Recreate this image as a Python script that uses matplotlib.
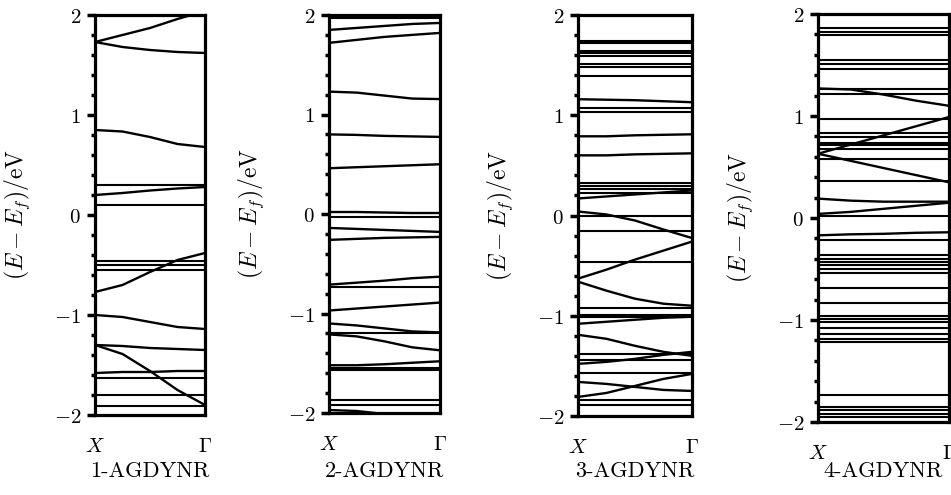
import matplotlib
matplotlib.use("Agg")
import matplotlib.pyplot as plt
from matplotlib.ticker import MultipleLocator

plt.rcParams['mathtext.fontset'] = 'cm'

# ---------------- data ----------------
k_points = [0.0, 0.25, 0.5, 0.75, 1.0]
k_labels = [r'$X$', r'$\Gamma$']
yticks = [-2, -1, 0, 1, 2]
panel_names = ['1-AGDYNR', '2-AGDYNR', '3-AGDYNR', '4-AGDYNR']

# dispersive bands: energies (eV) at k_points
disp_1 = [
    [1.73, 1.80, 1.87, 1.96, 2.04],
    [1.73, 1.68, 1.65, 1.63, 1.62],
    [0.85, 0.835, 0.78, 0.71, 0.68],
    [0.20, 0.22, 0.245, 0.265, 0.28],
    [-0.77, -0.70, -0.57, -0.45, -0.38],
    [-1.00, -1.02, -1.07, -1.12, -1.14],
    [-1.30, -1.31, -1.33, -1.34, -1.35],
    [-1.30, -1.39, -1.56, -1.75, -1.90],
    [-1.58, -1.57, -1.57, -1.56, -1.56],
]
flat_1 = [0.30, 0.10, -0.46, -0.50, -0.55, -1.63, -1.80, -1.91]

disp_2 = [
    [1.85, 1.87, 1.89, 1.91, 1.92],
    [1.72, 1.75, 1.78, 1.80, 1.82],
    [1.23, 1.22, 1.19, 1.16, 1.155],
    [0.80, 0.795, 0.785, 0.78, 0.775],
    [0.46, 0.47, 0.48, 0.49, 0.50],
    [0.02, 0.02, 0.015, 0.01, 0.01],
    [-0.14, -0.15, -0.16, -0.17, -0.18],
    [-0.26, -0.25, -0.24, -0.235, -0.23],
    [-0.71, -0.69, -0.67, -0.645, -0.63],
    [-0.97, -0.95, -0.93, -0.91, -0.89],
    [-1.10, -1.12, -1.15, -1.18, -1.19],
    [-1.21, -1.23, -1.28, -1.34, -1.37],
    [-1.52, -1.52, -1.51, -1.495, -1.48],
    [-1.97, -1.98, -2.01, -2.05, -2.08],
]
flat_2 = [1.99, 1.97, -0.03, -0.73, -1.20, -1.55, -1.57, -1.87, -1.92]

disp_3 = [
    [1.16, 1.155, 1.15, 1.14, 1.13],
    [0.79, 0.79, 0.80, 0.805, 0.81],
    [0.60, 0.60, 0.61, 0.615, 0.62],
    [0.17, 0.19, 0.21, 0.23, 0.25],
    [0.04, 0.01, -0.05, -0.14, -0.225],
    [-0.63, -0.54, -0.44, -0.35, -0.26],
    [-0.66, -0.75, -0.83, -0.88, -0.90],
    [-1.08, -1.06, -1.04, -1.02, -1.01],
    [-1.19, -1.23, -1.30, -1.36, -1.40],
    [-1.48, -1.46, -1.43, -1.39, -1.36],
    [-1.66, -1.68, -1.71, -1.74, -1.75],
    [-1.81, -1.77, -1.70, -1.63, -1.58],
]
flat_3 = [1.745, 1.72, 1.64, 1.62, 1.59, 1.51, 1.48, 1.39, 1.07, 1.03,
          0.32, 0.29, 0.26, 0.22, 0.0, -0.15, -0.46, -0.92, -0.99, -1.01,
          -1.38, -1.44, -1.57, -1.84, -1.89]

disp_4 = [
    [1.27, 1.26, 1.21, 1.15, 1.10],
    [0.63, 0.72, 0.81, 0.90, 0.99],
    [0.63, 0.56, 0.49, 0.42, 0.35],
    [0.04, 0.06, 0.09, 0.12, 0.15],
    [0.19, 0.17, 0.16, 0.16, 0.16],
    [-0.17, -0.16, -0.155, -0.145, -0.14],
]
flat_4 = [1.86, 1.825, 1.79, 1.547, 1.51, 1.46, 1.26, 1.22, 0.97, 0.835,
          0.79, 0.74, 0.72, 0.68, 0.58, 0.36, 0.02, -0.22, -0.36, -0.40,
          -0.43, -0.46, -0.50, -0.54, -0.69, -0.83, -0.96, -0.99, -1.02,
          -1.08, -1.14, -1.19, -1.22, -1.74, -1.85, -1.88, -1.92, -1.95]

panels_disp = [disp_1, disp_2, disp_3, disp_4]
panels_flat = [flat_1, flat_2, flat_3, flat_4]

# ---------------- layout (pixel boxes: left, top, right, bottom) ----------------
W, H = 951, 495
boxes = [(95, 15, 205, 415), (329, 15, 440, 413), (578, 15, 692, 416), (818, 14, 949, 422)]

fig = plt.figure(figsize=(W / 100, H / 100), dpi=100)

for i, (l, t, r, b) in enumerate(boxes):
    ax = fig.add_axes([l / W, 1 - b / H, (r - l) / W, (b - t) / H])
    for band in panels_disp[i]:
        ax.plot(k_points, band, color='black', lw=1.7, solid_capstyle='butt')
    for e in panels_flat[i]:
        ax.plot([k_points[0], k_points[-1]], [e, e], color='black', lw=1.5,
                solid_capstyle='butt')
    ax.set_xlim(0, 1)
    ax.set_ylim(-2, 2)
    ax.set_xticks([k_points[0], k_points[-1]])
    ax.set_xticklabels(k_labels, fontsize=15)
    ax.tick_params(axis='x', length=0, pad=15)
    ax.set_yticks(yticks)
    ax.set_yticklabels([rf'${v}$' for v in yticks], fontsize=15)
    ax.yaxis.set_minor_locator(MultipleLocator(0.2))
    ax.tick_params(axis='y', which='major', direction='out', length=6, width=2.5, pad=4)
    ax.tick_params(axis='y', which='minor', direction='out', length=3, width=2.5)
    for s in ax.spines.values():
        s.set_linewidth(2.3)
    ax.set_ylabel(r'$(E-E_f)/\mathrm{eV}$', fontsize=17)
    ax.yaxis.set_label_coords(-63 / (r - l), 0.5)
    fig.text((l + r) / 2 / W, 1 - 471 / H, panel_names[i], ha='center', va='center',
             fontsize=16, family='cmr10')

fig.savefig('out.png', dpi=100)
